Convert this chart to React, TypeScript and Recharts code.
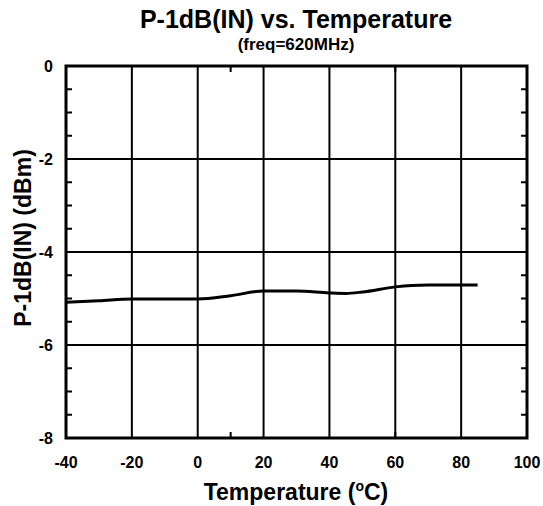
import React from "react"
import {
  LineChart,
  Line,
  XAxis,
  YAxis,
  CartesianGrid,
  ReferenceArea,
} from "recharts"

// ── Data ─────────────────────────────────────────────────────────────────────
const temperature = [-40, -30, -20, -10, 0, 10, 20, 30, 40, 45, 50, 60, 65, 70, 85]
const p1dbIn = [-5.08, -5.05, -5.01, -5.01, -5.01, -4.94, -4.84, -4.84, -4.88, -4.89, -4.86, -4.75, -4.72, -4.71, -4.71]

const xTicks = [-40, -20, 0, 20, 40, 60, 80, 100]
const yTicks = [-8, -6, -4, -2, 0]
const xMinorTicks = [-35, -30, -25, -15, -10, -5, 5, 10, 15, 25, 30, 35, 45, 50, 55, 65, 70, 75, 85, 90, 95]
const yMinorTicks = [-7.5, -7, -6.5, -5.5, -5, -4.5, -3.5, -3, -2.5, -1.5, -1, -0.5]

const data = temperature.map((t, i) => ({ t, p: p1dbIn[i] }))

const FONT = "'Liberation Sans', Arial, sans-serif"
const minorLine = { stroke: "#000", strokeWidth: 2 }
const labelStyle = { fontFamily: FONT, fontWeight: 700, fontSize: 16, fill: "#000" }

// ── Tick renderers ───────────────────────────────────────────────────────────
const XTick = ({ x, y, payload }: any) => (
  <text x={x} y={y + 30} textAnchor="middle" style={labelStyle}>
    {payload.value}
  </text>
)

const YTick = ({ x, y, payload }: any) => (
  <text x={x - 13} y={y + 6} textAnchor="end" style={labelStyle}>
    {payload.value}
  </text>
)

const NoLabel = () => <g />

export default function App() {
  return (
    <div style={{ position: "absolute", left: 0, top: 0, width: 543, height: 506, background: "#fff" }}>
      <LineChart
        width={543}
        height={506}
        data={data}
        margin={{ top: 66, right: 16, bottom: 0, left: 0 }}
      >
        <CartesianGrid
          xAxisId="main"
          yAxisId="main"
          stroke="#000"
          strokeWidth={2}
          horizontalValues={yTicks}
          verticalValues={xTicks}
        />
        <XAxis
          xAxisId="main"
          dataKey="t"
          type="number"
          domain={[-40, 100]}
          ticks={xTicks}
          allowDataOverflow
          axisLine={false}
          tickLine={false}
          tickSize={0}
          tickMargin={0}
          tick={XTick}
          height={68}
        />
        <XAxis
          xAxisId="minorBottom"
          type="number"
          domain={[-40, 100]}
          ticks={xMinorTicks}
          allowDataOverflow
          mirror
          axisLine={false}
          tick={NoLabel}
          tickLine={minorLine}
          tickSize={6}
          height={10}
        />
        <XAxis
          xAxisId="minorTop"
          orientation="top"
          type="number"
          domain={[-40, 100]}
          ticks={xMinorTicks}
          allowDataOverflow
          mirror
          axisLine={false}
          tick={NoLabel}
          tickLine={minorLine}
          tickSize={6}
          height={10}
        />
        <YAxis
          yAxisId="main"
          type="number"
          domain={[-8, 0]}
          ticks={yTicks}
          allowDataOverflow
          axisLine={false}
          tickLine={false}
          tickSize={0}
          tickMargin={0}
          tick={YTick}
          width={66}
        />
        <YAxis
          yAxisId="minorLeft"
          type="number"
          domain={[-8, 0]}
          ticks={yMinorTicks}
          allowDataOverflow
          mirror
          axisLine={false}
          tick={NoLabel}
          tickLine={minorLine}
          tickSize={6}
          width={10}
        />
        <YAxis
          yAxisId="minorRight"
          orientation="right"
          type="number"
          domain={[-8, 0]}
          ticks={yMinorTicks}
          allowDataOverflow
          mirror
          axisLine={false}
          tick={NoLabel}
          tickLine={minorLine}
          tickSize={6}
          width={10}
        />
        <ReferenceArea
          xAxisId="main"
          yAxisId="main"
          x1={-40}
          x2={100}
          y1={-8}
          y2={0}
          fill="none"
          stroke="#000"
          strokeWidth={3}
          ifOverflow="visible"
        />
        <Line
          xAxisId="main"
          yAxisId="main"
          dataKey="p"
          type="monotone"
          stroke="#000"
          strokeWidth={3}
          dot={false}
          isAnimationActive={false}
        />
      </LineChart>

      {/* titles and axis names */}
      <svg
        width={543}
        height={506}
        style={{ position: "absolute", left: 0, top: 0, pointerEvents: "none" }}
        fontFamily={FONT}
        fontWeight={700}
        fill="#000"
      >
        <text x={296} y={28} textAnchor="middle" fontSize={25}>
          P-1dB(IN) vs. Temperature
        </text>
        <text x={296} y={50} textAnchor="middle" fontSize={17}>
          (freq=620MHz)
        </text>
        <text x={296} y={500} textAnchor="middle" fontSize={23}>
          Temperature (<tspan fontSize={14} dy={-9}>o</tspan>
          <tspan dy={9}>C)</tspan>
        </text>
        <text x={31} y={238} textAnchor="middle" fontSize={23} transform="rotate(-90, 31, 238)">
          P-1dB(IN) (dBm)
        </text>
      </svg>
    </div>
  )
}
